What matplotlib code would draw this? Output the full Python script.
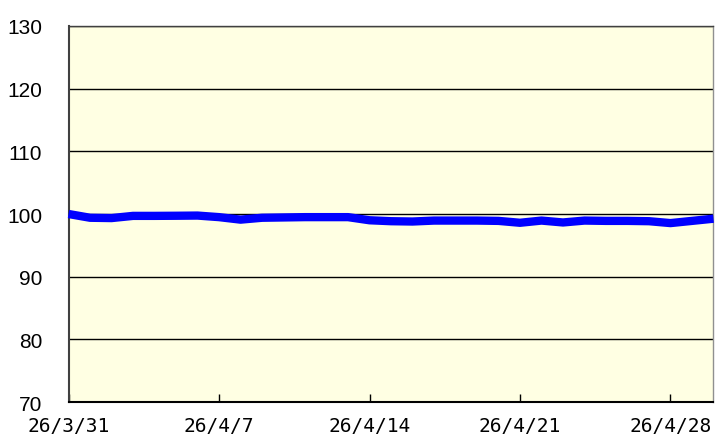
import matplotlib
matplotlib.use("Agg")
import matplotlib.pyplot as plt
import matplotlib.dates as mdates
import numpy as np
import pandas as pd

# daily values (weekends carry Friday's value), 2014-03-31 .. 2014-04-30
dates = pd.date_range("2014-03-31", "2014-04-30", freq="D")
values = [
    100.0, 99.4, 99.35, 99.7, 99.7, 99.72, 99.75,    # 3/31 - 4/6
    99.5, 99.1, 99.4, 99.45, 99.5, 99.5, 99.5,       # 4/7 - 4/13
    99.0, 98.85, 98.8, 98.95, 98.95, 98.95, 98.9,    # 4/14 - 4/20
    98.6, 98.95, 98.65, 98.95, 98.9, 98.9, 98.85,    # 4/21 - 4/27
    98.55, 98.9, 99.25,                              # 4/28 - 4/30
]
tick_dates = pd.to_datetime(["2014-03-31", "2014-04-07", "2014-04-14", "2014-04-21", "2014-04-28"])
tick_labels = ["26/3/31", "26/4/7", "26/4/14", "26/4/21", "26/4/28"]
y_ticks = [70, 80, 90, 100, 110, 120, 130]

fig = plt.figure(figsize=(7.16, 4.39), dpi=100)
ax = fig.add_axes([0.0957, 0.082, 0.9008, 0.8565])
ax.set_facecolor("#FFFFE3")

ax.plot(dates, values, color="#0000FF", linewidth=6, solid_joinstyle="round",
        solid_capstyle="butt", zorder=3, clip_on=False)

ax.set_ylim(70, 130)
ax.set_yticks(y_ticks)
ax.set_xlim(dates[0], dates[-1])
ax.set_xticks(tick_dates)
ax.set_xticklabels(tick_labels)

ax.grid(axis="y", color="black", linewidth=1.0, zorder=1)
ax.set_axisbelow(True)

for lbl in ax.get_yticklabels():
    lbl.set_fontfamily("Liberation Sans")
    lbl.set_fontsize(15)
for lbl in ax.get_xticklabels():
    lbl.set_fontfamily("DejaVu Sans Mono")
    lbl.set_fontsize(14)

ax.tick_params(axis="y", length=0, pad=19)
ax.tick_params(axis="x", direction="in", length=6, width=1, color="black", pad=10)

ax.spines["left"].set_color("#404040")
ax.spines["left"].set_linewidth(1.5)
ax.spines["bottom"].set_color("black")
ax.spines["bottom"].set_linewidth(1.5)
ax.spines["top"].set_color("#404040")
ax.spines["top"].set_linewidth(1.0)
ax.spines["right"].set_color("#909090")
ax.spines["right"].set_linewidth(1.0)

fig.savefig("out.png", dpi=100, facecolor="white")
